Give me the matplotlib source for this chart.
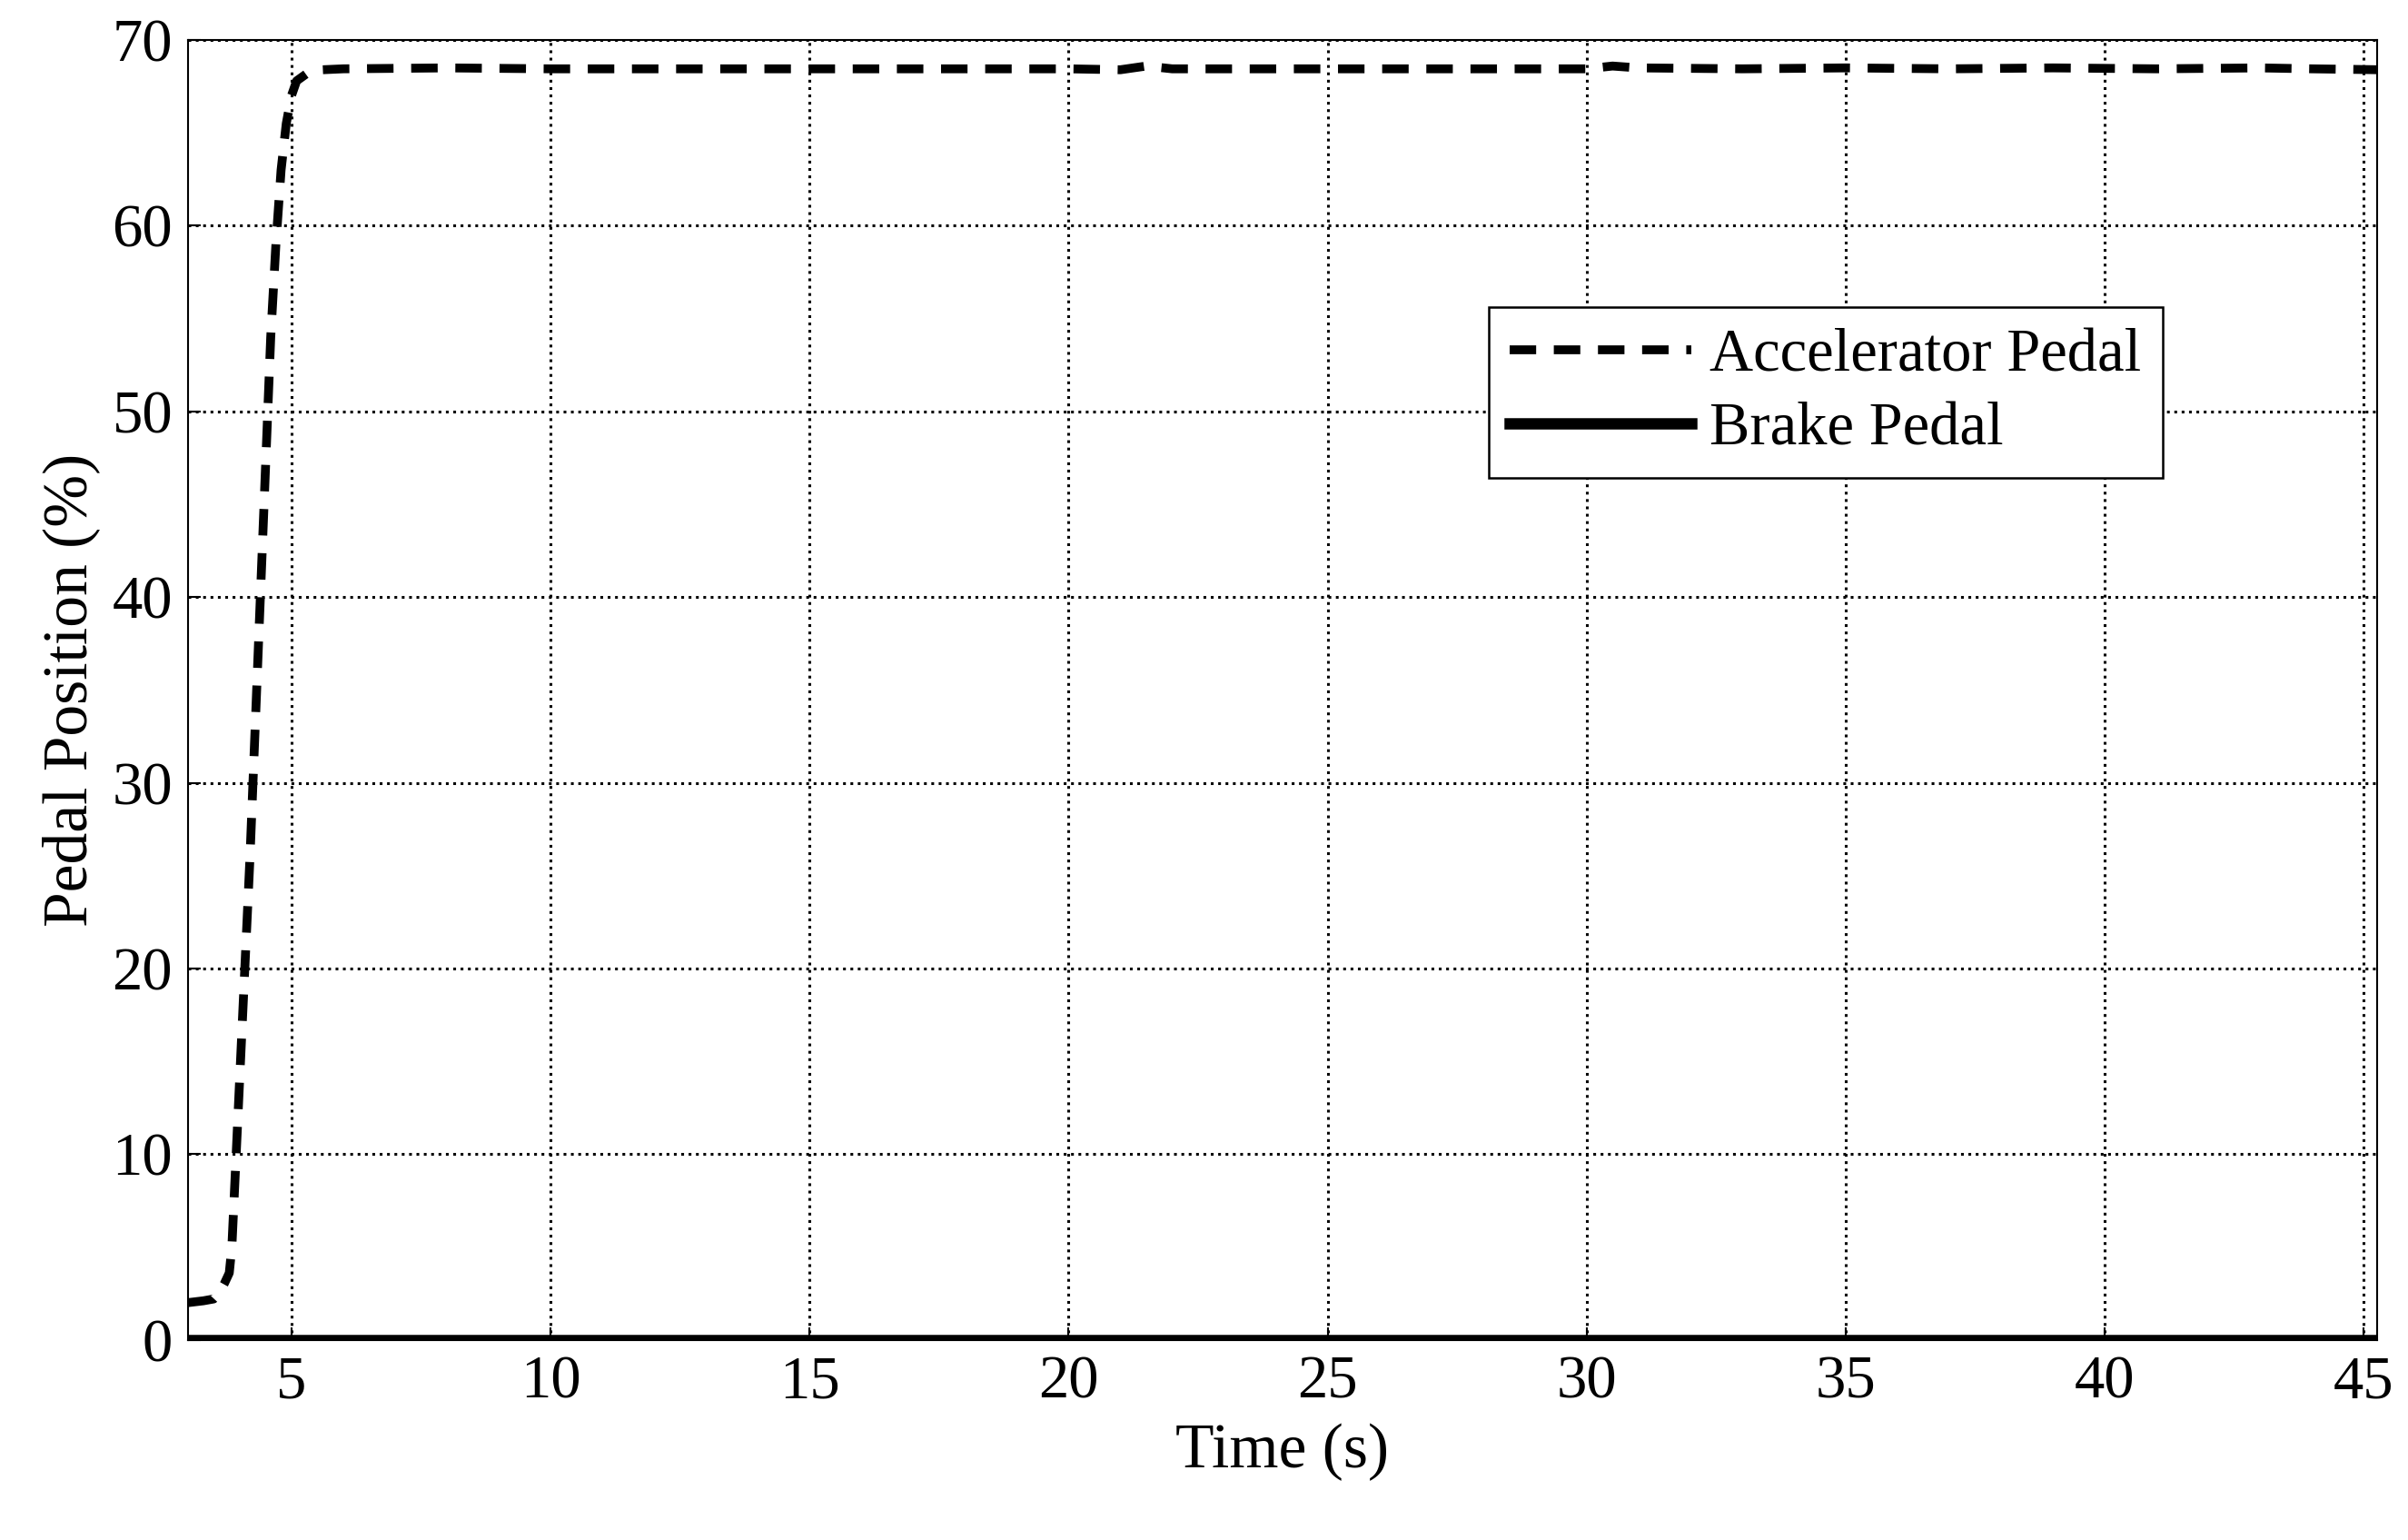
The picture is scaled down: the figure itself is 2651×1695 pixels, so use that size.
import numpy as np
import matplotlib.pyplot as plt

plt.rcParams['font.family'] = ['Liberation Serif', 'DejaVu Serif']

# accelerator pedal trace
acc_time = [3.0, 3.3, 3.5, 3.6, 3.7, 3.8, 3.85, 3.9, 4.0, 4.1, 4.2, 4.3, 4.4, 4.5, 4.6,
            4.7, 4.8, 4.9, 5.0, 5.1, 5.3, 5.6, 6.0, 8, 10, 12, 14, 16, 18, 20, 21,
            21.5, 22, 24, 26, 28, 30, 30.5, 31, 33, 35, 37, 39, 41, 43, 44, 45.3]
acc_value = [2.0, 2.1, 2.2, 2.5, 3.0, 3.6, 5.0, 8.0, 14.0, 20.0, 26.0, 33.0, 40.0, 47.0,
             54.0, 59.0, 63.0, 65.5, 67.0, 67.8, 68.2, 68.4, 68.45, 68.5, 68.45, 68.45,
             68.45, 68.45, 68.45, 68.45, 68.4, 68.6, 68.45, 68.45, 68.45, 68.45, 68.45,
             68.6, 68.5, 68.45, 68.5, 68.45, 68.5, 68.45, 68.5, 68.45, 68.4]
brake_time = [3.0, 45.3]
brake_value = [0.0, 0.0]

fig = plt.figure(figsize=(26.51, 16.95), dpi=100)
ax = fig.add_axes([0.078, 0.130, 0.909, 0.844])

ax.plot(acc_time, acc_value, color='black', lw=7, ls=(0, (3, 2)), label='Accelerator Pedal')
ax.plot(brake_time, brake_value, color='black', lw=9, label='Brake Pedal')

ax.set_xlim(3, 45.25)
ax.set_ylim(0, 70)
ax.set_xticks(range(5, 50, 5))
ax.set_yticks(range(0, 80, 10))
ax.grid(True, color='black', ls=':', lw=2.2)
ax.tick_params(labelsize=48, direction='in', length=10, width=1.5, pad=12)
for s in ax.spines.values():
    s.set_linewidth(1.5)
ax.set_xlabel('Time (s)', fontsize=50, labelpad=10)
ax.set_ylabel('Pedal Position (%)', fontsize=50, labelpad=10)

leg = ax.legend(loc='upper right', bbox_to_anchor=(0.916, 0.818), fontsize=48,
                fancybox=False, framealpha=1, edgecolor='black', handlelength=3.0,
                handletextpad=0.3, borderpad=0.35, labelspacing=0.3)
leg.get_frame().set_linewidth(1.8)

fig.savefig('out.png')
